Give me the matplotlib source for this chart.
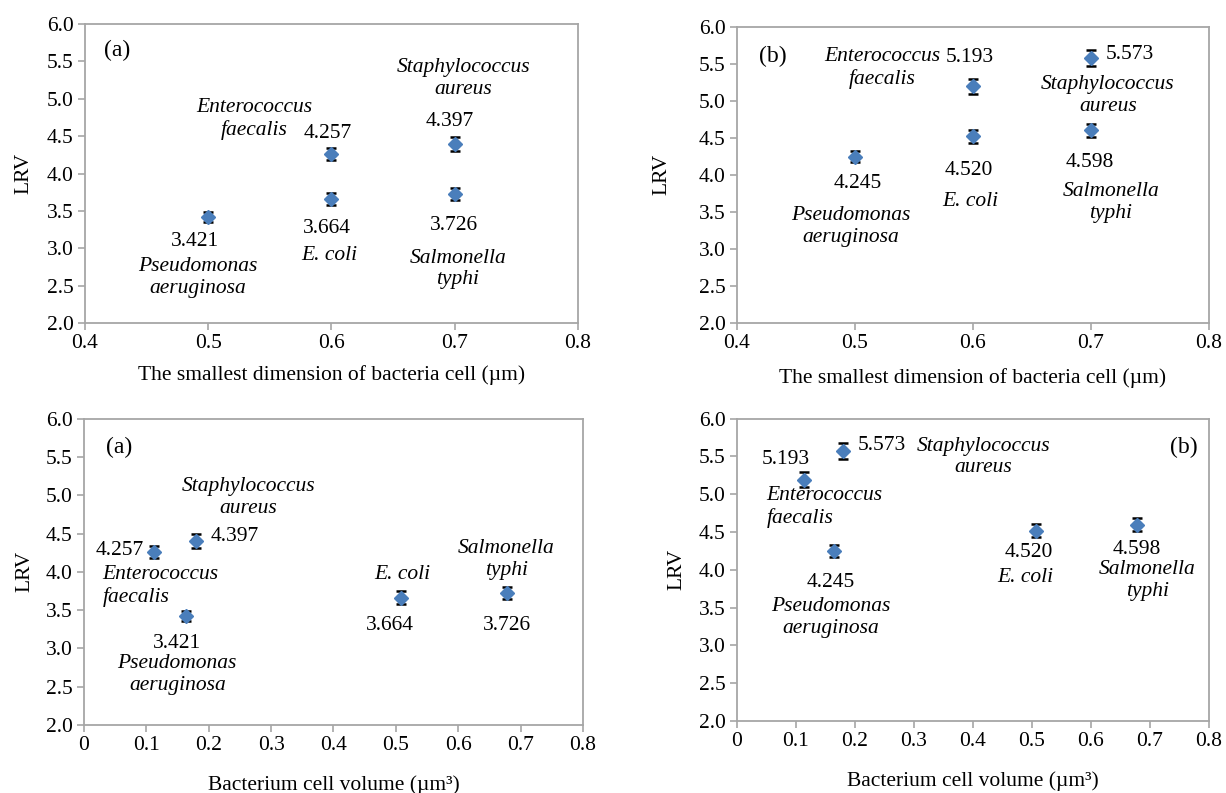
import matplotlib
matplotlib.use('Agg')
import matplotlib.pyplot as plt

plt.rcParams['font.family'] = ['Liberation Serif', 'DejaVu Serif']

# data
species = ['Pseudomonas\naeruginosa', 'E. coli', 'Enterococcus\nfaecalis',
           'Staphylococcus\naureus', 'Salmonella\ntyphi']
smallest_dim = [0.5, 0.6, 0.6, 0.7, 0.7]
cell_volume = [0.164, 0.508, 0.113, 0.180, 0.679]
lrv_a = [3.421, 3.664, 4.257, 4.397, 3.726]
lrv_b = [4.245, 4.520, 5.193, 5.573, 4.598]
err_a = [0.07, 0.08, 0.08, 0.09, 0.08]
err_b = [0.08, 0.09, 0.10, 0.11, 0.09]

# label offsets in pixels from each point: (value dx, dy, ha), (name dx, dy, ha)
offs_1 = [((-13, -25, 'center'), (-10, -61, 'center')),
          ((-5, -30, 'center'), (-2, -57, 'center')),
          ((-4, 21, 'center'), (-77, 35, 'center')),
          ((-5, 22, 'center'), (9, 65, 'center')),
          ((-1, -32, 'center'), (3, -75, 'center'))]
offs_2 = [((3, -27, 'center'), (-4, -70, 'center')),
          ((-4, -34, 'center'), (-3, -65, 'center')),
          ((-3, 29, 'center'), (-91, 18, 'center')),
          ((15, 4, 'left'), (17, -37, 'center')),
          ((-1, -32, 'center'), (20, -72, 'center'))]
offs_3 = [((-9, -27, 'center'), (-9, -58, 'center')),
          ((-11, -28, 'center'), (1, 23, 'center')),
          ((-11, 2, 'right'), (-52, -34, 'left')),
          ((14, 5, 'left'), (52, 44, 'center')),
          ((-1, -33, 'center'), (-1, 33, 'center'))]
offs_4 = [((-3, -31, 'center'), (-3, -66, 'center')),
          ((-8, -22, 'center'), (-11, -47, 'center')),
          ((-18, 20, 'center'), (-37, -27, 'left')),
          ((15, 5, 'left'), (140, -6, 'center')),
          ((0, -25, 'center'), (10, -56, 'center'))]

dim_label = 'The smallest dimension of bacteria cell (\u00b5m)'
vol_label = 'Bacterium cell volume (\u00b5m\u00b3)'

panels = [
    # rect, x, y, err, offsets, tag, tag pos, xlim, xticks, xlabel, ylabel x, xlabel y
    ([0.0693, 0.5927, 0.4021, 0.3770], smallest_dim, lrv_a, err_a, offs_1, '(a)', (0.065, 0.913),
     (0.4, 0.8), [0.4, 0.5, 0.6, 0.7, 0.8], dim_label, -0.104, -0.14),
    ([0.6011, 0.5931, 0.3850, 0.3733], smallest_dim, lrv_b, err_b, offs_2, '(b)', (0.076, 0.898),
     (0.4, 0.8), [0.4, 0.5, 0.6, 0.7, 0.8], dim_label, -0.138, -0.155),
    ([0.0685, 0.0858, 0.4070, 0.3863], cell_volume, lrv_a, err_a, offs_3, '(a)', (0.07, 0.905),
     (0, 0.8), [0, 0.1, 0.2, 0.3, 0.4, 0.5, 0.6, 0.7, 0.8], vol_label, -0.10, -0.163),
    ([0.6011, 0.0908, 0.3847, 0.3812], cell_volume, lrv_b, err_b, offs_4, '(b)', (0.948, 0.904),
     (0, 0.8), [0, 0.1, 0.2, 0.3, 0.4, 0.5, 0.6, 0.7, 0.8], vol_label, -0.108, -0.166),
]

fig = plt.figure(figsize=(12.26, 7.93), dpi=100)
fs = 15.5
px = 0.72  # pixels -> points at 100 dpi
yticks = [2.0, 2.5, 3.0, 3.5, 4.0, 4.5, 5.0, 5.5, 6.0]

for rect, xs, ys, es, offs, tag, tagpos, xlim, xticks, xlab, ylx, xly in panels:
    ax = fig.add_axes(rect)
    ax.errorbar(xs, ys, yerr=es, fmt='D', color='#4a7ebb', markersize=7,
                ecolor='black', elinewidth=1.5, capsize=3.5, capthick=1.8, zorder=3)
    for x, y, name, (vo, no) in zip(xs, ys, species, offs):
        ax.annotate(f'{y:.3f}', (x, y), xytext=(vo[0] * px, vo[1] * px),
                    textcoords='offset points', ha=vo[2], va='center', fontsize=fs)
        ax.annotate(name, (x, y), xytext=(no[0] * px, no[1] * px),
                    textcoords='offset points', ha=no[2], va='center', fontsize=fs,
                    style='italic', linespacing=1.2,
                    multialignment='center' if no[2] == 'center' else 'left')
    ax.text(tagpos[0], tagpos[1], tag, transform=ax.transAxes, ha='center', va='center', fontsize=17)
    ax.set_xlim(*xlim)
    ax.set_ylim(2.0, 6.0)
    ax.set_xticks(xticks)
    ax.set_xticklabels(['0' if t == 0 else f'{t:.1f}' for t in xticks])
    ax.set_yticks(yticks)
    ax.set_yticklabels([f'{t:.1f}' for t in yticks])
    for s in ax.spines.values():
        s.set_color('#a6a6a6')
        s.set_linewidth(1.3)
    ax.tick_params(direction='out', length=5, width=1.2, color='#a6a6a6', labelsize=fs, pad=3)
    ax.set_ylabel('LRV', fontsize=fs)
    ax.set_xlabel(xlab, fontsize=fs)
    ax.yaxis.set_label_coords(ylx, 0.5)
    ax.xaxis.set_label_coords(0.5, xly)

fig.savefig('out.png', dpi=100)
